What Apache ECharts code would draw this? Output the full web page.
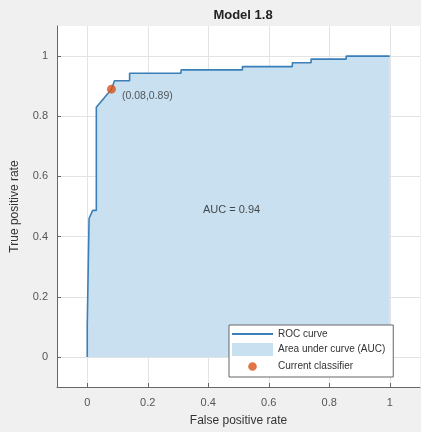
<!DOCTYPE html>
<html>
<head>
<meta charset="utf-8">
<script src="https://cdn.jsdelivr.net/npm/echarts@6/dist/echarts.min.js"></script>
<style>
  html, body { margin: 0; padding: 0; background: #f0f0f0; }
  #chart { width: 421px; height: 432px; }
</style>
</head>
<body>
<div id="chart"></div>
<script>
  // ROC curve points
  var fpr = [0, 0, 0.006, 0.006, 0.018, 0.03, 0.03, 0.08, 0.09, 0.14, 0.14, 0.31, 0.31, 0.513, 0.513, 0.678, 0.678, 0.74, 0.74, 0.856, 0.856, 1.0];
  var tpr = [0, 0.105, 0.105, 0.46, 0.487, 0.487, 0.83, 0.89, 0.918, 0.918, 0.943, 0.943, 0.954, 0.954, 0.965, 0.965, 0.978, 0.978, 0.99, 0.99, 1.0, 1.0];
  var classifier = [0.08, 0.89];
  var aucText = 'AUC = 0.94';
  var aucPos = [0.477, 0.49];
  var tickValues = [0, 0.2, 0.4, 0.6, 0.8, 1];

  var roc = [];
  for (var i = 0; i < fpr.length; i++) {
    roc.push([fpr[i], tpr[i]]);
  }

  var font = 'Liberation Sans';
  var chart = echarts.init(document.getElementById('chart'));

  function axis(name, gap, rotate) {
    return {
      type: 'value',
      min: -0.1,
      max: 1.1,
      name: name,
      nameLocation: 'middle',
      nameGap: gap,
      nameRotate: rotate,
      nameTextStyle: { fontFamily: font, fontSize: 12, color: '#333' },
      axisLine: { show: true, onZero: false, lineStyle: { color: '#666', width: 1 } },
      axisTick: { show: true, inside: true, length: 4, customValues: tickValues, lineStyle: { color: '#666' } },
      axisLabel: {
        customValues: tickValues,
        fontFamily: font, fontSize: 11, color: '#555',
        formatter: function (v) { return String(+v.toFixed(1)); }
      },
      splitLine: { show: true, lineStyle: { color: '#e3e3e3', width: 1 } }
    };
  }

  var x = axis('False positive rate', 28);
  x.axisLabel.margin = 10;
  var y = axis('True positive rate', 36, 90);
  y.axisLabel.margin = 9;

  // legend icons: a thin line, and a small dot (extra moves widen the box so it stays small)
  var lineIcon = 'path://M0,0L41,0L41,2L0,2Z';
  var dotIcon = 'path://M0,0M12,12M6,2A4,4,0,1,1,5.99,2Z';

  var option = {
    backgroundColor: '#f0f0f0',
    animation: false,
    title: {
      text: 'Model 1.8',
      left: 238,
      textAlign: 'center',
      top: 4,
      textStyle: { fontFamily: font, fontSize: 13, fontWeight: 'bold', color: '#222' }
    },
    grid: {
      left: 57, right: 1, top: 26, bottom: 42,
      show: true, backgroundColor: '#ffffff', borderWidth: 0
    },
    legend: {
      orient: 'vertical',
      left: 229,
      top: 325,
      width: 181,
      padding: [4, 8, 4, 3],
      itemGap: 4,
      itemWidth: 41,
      itemHeight: 13,
      backgroundColor: '#ffffff',
      borderColor: '#666',
      borderWidth: 1,
      borderRadius: 0,
      textStyle: { fontFamily: font, fontSize: 10, color: '#333' },
      data: [
        { name: 'ROC curve', icon: lineIcon },
        { name: 'Area under curve (AUC)', icon: 'rect' },
        { name: 'Current classifier', icon: dotIcon }
      ]
    },
    xAxis: x,
    yAxis: y,
    series: [
      {
        name: 'Area under curve (AUC)',
        type: 'line',
        data: roc,
        symbol: 'none',
        lineStyle: { width: 0 },
        itemStyle: { color: '#c9e0f0' },
        areaStyle: { color: '#c9e0f0', opacity: 1 },
        z: 1
      },
      {
        name: 'ROC curve',
        type: 'line',
        data: roc,
        symbol: 'none',
        lineStyle: { width: 1.6, color: '#3a7fb7' },
        itemStyle: { color: '#3a7fb7' },
        z: 2
      },
      {
        name: 'Current classifier',
        type: 'scatter',
        data: [classifier],
        symbolSize: 9,
        itemStyle: { color: '#d95319' },
        label: {
          show: true,
          position: 'right',
          distance: 6,
          offset: [0, 7],
          fontFamily: font, fontSize: 10.5, color: '#333',
          formatter: function (p) { return '(' + p.value[0] + ',' + p.value[1] + ')'; }
        },
        z: 3
      },
      {
        name: 'auc',
        type: 'scatter',
        data: [aucPos],
        symbolSize: 0,
        silent: true,
        label: {
          show: true,
          position: 'inside',
          fontFamily: font, fontSize: 11, color: '#222',
          formatter: aucText
        },
        z: 3
      }
    ]
  };

  chart.setOption(option);
</script>
</body>
</html>
